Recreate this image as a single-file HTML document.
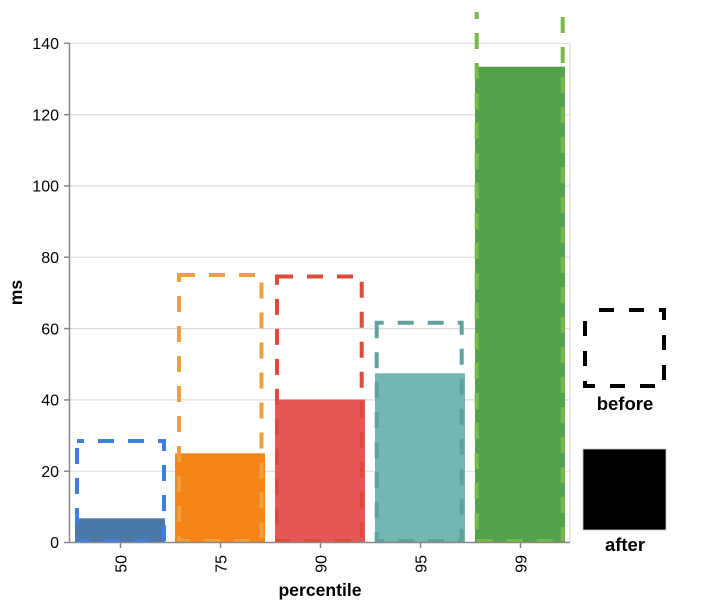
<!DOCTYPE html>
<html>
<head>
<meta charset="utf-8">
<style>
  html, body { margin: 0; padding: 0; background: #ffffff; }
  svg { display: block; }
  text { font-family: "Liberation Sans", Arial, sans-serif; fill: #000; }
</style>
</head>
<body>
<svg width="724" height="616" viewBox="0 0 724 616" xmlns="http://www.w3.org/2000/svg">
  <rect x="0" y="0" width="724" height="616" fill="#ffffff"/>

  <!-- gridlines -->
  <g stroke="#dddddd" stroke-width="1.2" fill="none">
    <line x1="70" y1="43.3" x2="570" y2="43.3"/>
    <line x1="70" y1="114.6" x2="570" y2="114.6"/>
    <line x1="70" y1="185.9" x2="570" y2="185.9"/>
    <line x1="70" y1="257.2" x2="570" y2="257.2"/>
    <line x1="70" y1="328.6" x2="570" y2="328.6"/>
    <line x1="70" y1="399.9" x2="570" y2="399.9"/>
    <line x1="70" y1="471.2" x2="570" y2="471.2"/>
    <line x1="570" y1="43.3" x2="570" y2="542.5"/>
  </g>

  <!-- after bars (filled) -->
  <rect x="75" y="518.3" width="90" height="24.2" fill="#4c78a8"/>
  <rect x="175" y="453.3" width="90" height="89.2" fill="#f58518"/>
  <rect x="275" y="399.5" width="90" height="143" fill="#e45756"/>
  <rect x="375" y="373.3" width="90" height="169.2" fill="#72b7b2"/>
  <rect x="475" y="66.7" width="90" height="475.8" fill="#54a24b"/>

  <!-- before bars (dashed outlines) -->
  <g fill="none" stroke-width="4" stroke-dasharray="16 14">
    <path d="M77,441 H164 V541 H77 Z" stroke="#3f7fdc" stroke-dashoffset="9"/>
    <path d="M179,275 H261.5 V541 H179 Z" stroke="#eea03e"/>
    <path d="M277,276.5 H361.7 V541 H277 Z" stroke="#dc4c3c"/>
    <path d="M376.7,322.7 H461.7 V541 H376.7 Z" stroke="#5fa19c" stroke-dashoffset="9"/>
    <line x1="476.7" y1="12" x2="476.7" y2="541" stroke="#78b94c" stroke-dashoffset="9"/>
    <line x1="562.7" y1="12" x2="562.7" y2="541" stroke="#78b94c" stroke-dashoffset="25"/>
    <line x1="476.7" y1="541" x2="562.7" y2="541" stroke="#78b94c"/>
  </g>

  <!-- axes -->
  <g stroke="#888888" stroke-width="1.5" fill="none">
    <line x1="69.5" y1="43" x2="69.5" y2="543"/>
    <line x1="69" y1="542.5" x2="570" y2="542.5"/>
    <!-- y ticks -->
    <line x1="64" y1="43.3" x2="69.5" y2="43.3"/>
    <line x1="64" y1="114.6" x2="69.5" y2="114.6"/>
    <line x1="64" y1="185.9" x2="69.5" y2="185.9"/>
    <line x1="64" y1="257.2" x2="69.5" y2="257.2"/>
    <line x1="64" y1="328.6" x2="69.5" y2="328.6"/>
    <line x1="64" y1="399.9" x2="69.5" y2="399.9"/>
    <line x1="64" y1="471.2" x2="69.5" y2="471.2"/>
    <line x1="64" y1="542.5" x2="69.5" y2="542.5"/>
    <!-- x ticks -->
    <line x1="120.5" y1="542.5" x2="120.5" y2="548"/>
    <line x1="220.5" y1="542.5" x2="220.5" y2="548"/>
    <line x1="320.5" y1="542.5" x2="320.5" y2="548"/>
    <line x1="420.5" y1="542.5" x2="420.5" y2="548"/>
    <line x1="520.5" y1="542.5" x2="520.5" y2="548"/>
  </g>

  <!-- y tick labels -->
  <g font-size="16" text-anchor="end">
    <text x="59" y="49">140</text>
    <text x="59" y="120.3">120</text>
    <text x="59" y="191.6">100</text>
    <text x="59" y="262.9">80</text>
    <text x="59" y="334.3">60</text>
    <text x="59" y="405.6">40</text>
    <text x="59" y="476.9">20</text>
    <text x="59" y="548.2">0</text>
  </g>

  <!-- x tick labels (rotated) -->
  <g font-size="16" text-anchor="end">
    <text transform="translate(126.5,555) rotate(-90)">50</text>
    <text transform="translate(226.5,555) rotate(-90)">75</text>
    <text transform="translate(326.5,555) rotate(-90)">90</text>
    <text transform="translate(426.5,555) rotate(-90)">95</text>
    <text transform="translate(526.5,555) rotate(-90)">99</text>
  </g>

  <!-- axis titles -->
  <text x="320" y="596" font-size="17.6" font-weight="bold" text-anchor="middle">percentile</text>
  <text transform="translate(22,292.5) rotate(-90)" font-size="17.6" font-weight="bold" text-anchor="middle">ms</text>

  <!-- legend -->
  <rect x="585" y="310" width="79" height="76" fill="none" stroke="#000" stroke-width="4" stroke-dasharray="15 15" stroke-dashoffset="-14"/>
  <text x="625" y="410" font-size="18.5" font-weight="bold" text-anchor="middle">before</text>
  <rect x="583" y="449" width="83" height="81" fill="#000" stroke="#cccccc" stroke-width="0.8"/>
  <text x="625" y="551" font-size="18.5" font-weight="bold" text-anchor="middle">after</text>
</svg>
</body>
</html>
